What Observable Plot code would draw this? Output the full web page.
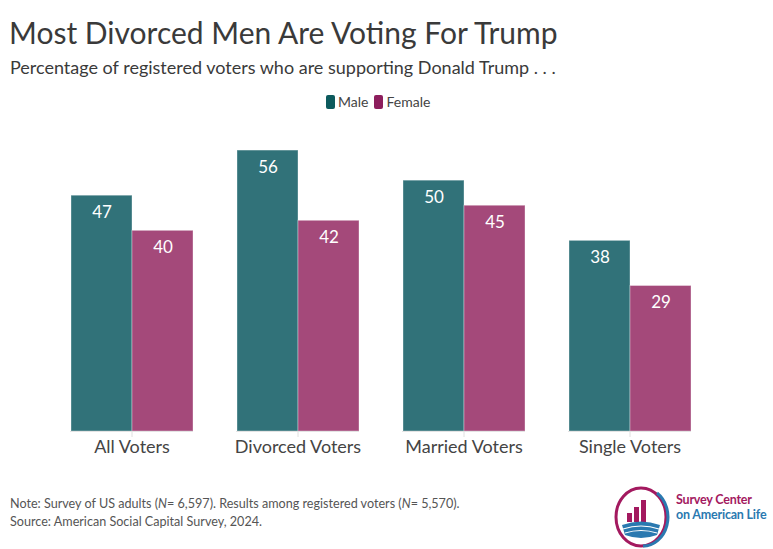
<!DOCTYPE html>
<html>
<head>
<meta charset="utf-8">
<script src="https://cdn.jsdelivr.net/npm/d3@7"></script>
<script src="https://cdn.jsdelivr.net/npm/@observablehq/plot@0.6"></script>
<style>
  html, body { margin: 0; padding: 0; background: #fff; }
  body { width: 773px; height: 549px; position: relative; overflow: hidden; font-family: Lato, "Open Sans", sans-serif; color: #333; }
  #title { position: absolute; left: 9px; top: 14px; font-size: 30px; line-height: 36px; color: #3a3a3a; white-space: nowrap; }
  #subtitle { position: absolute; left: 10px; top: 56px; font-size: 18px; line-height: 22px; color: #3a3a3a; white-space: nowrap; }
  #legend { position: absolute; left: 326px; top: 93px; font-size: 14px; line-height: 18px; color: #444; display: flex; align-items: center; gap: 6px; }
  #legend .sw { display: inline-block; width: 9px; height: 14px; border-radius: 2px; margin-right: 3px; vertical-align: -2px; }
  #chart { position: absolute; left: 0; top: 115px; }
  #note { position: absolute; left: 10px; top: 495px; font-size: 12.6px; line-height: 18px; color: #555; white-space: nowrap; }
  #logo { position: absolute; left: 613px; top: 485px; }
  #logotext { position: absolute; left: 676px; top: 492px; font-size: 12.5px; line-height: 15px; font-weight: 700; letter-spacing: -0.2px; }
</style>
</head>
<body>
<div id="title">Most Divorced Men Are Voting For Trump</div>
<div id="subtitle">Percentage of registered voters who are supporting Donald Trump . . .</div>
<div id="legend"></div>
<div id="chart"></div>
<div id="note">Note: Survey of US adults (<i>N</i>= 6,597). Results among registered voters (<i>N</i>= 5,570).<br>Source: American Social Capital Survey, 2024.</div>
<svg id="logo" width="58" height="64" viewBox="0 0 58 64">
  <ellipse cx="28" cy="32" rx="25" ry="29" fill="none" stroke="#a3195f" stroke-width="3"/>
  <path d="M 44 8 A 25 29 0 0 1 30 61" fill="none" stroke="#2a79b0" stroke-width="3"/>
  <rect x="14" y="28" width="5" height="9" fill="#a3195f"/>
  <rect x="21" y="22" width="5" height="15" fill="#a3195f"/>
  <rect x="28" y="15" width="5" height="22" fill="#a3195f"/>
  <path d="M 9 40 Q 28 33 47 40 L 44 50 Q 28 56 12 50 Z" fill="#2a79b0"/>
  <path d="M 10 44 Q 28 38 46 44 M 12 48 Q 28 43 44 48" stroke="#fff" stroke-width="1.2" fill="none"/>
</svg>
<div id="logotext"><span style="color:#a3195f">Survey Center</span><br><span style="color:#2a79b0">on American Life</span></div>
<script>
const categories = ["All Voters", "Divorced Voters", "Married Voters", "Single Voters"];
const sexes = ["Male", "Female"];
const maleValues = [47, 56, 50, 38];
const femaleValues = [40, 42, 45, 29];
const barColors = ["#317279", "#a4497a"];
const legendColors = ["#0c5a5d", "#8d1e5d"];

const data = categories.flatMap((c, i) => [
  {group: c, sex: "Male", value: maleValues[i]},
  {group: c, sex: "Female", value: femaleValues[i]}
]);

// legend
const legend = document.getElementById("legend");
sexes.forEach((s, i) => {
  const item = document.createElement("span");
  item.innerHTML = `<span class="sw" style="background:${legendColors[i]}"></span>${s}`;
  legend.appendChild(item);
});

let baseline;
try {
  baseline = Plot.ruleY([0], {facet: "super", stroke: "#e4e4e4", strokeWidth: 1.2});
} catch (e) {
  baseline = Plot.ruleY([0], {stroke: "#e4e4e4", strokeWidth: 1.2});
}

const common = {
  width: 773,
  height: 350,
  marginLeft: 48,
  marginRight: 60,
  marginTop: 15,
  marginBottom: 34,
  style: {fontFamily: "Lato, 'Open Sans', sans-serif", background: "transparent"},
  fx: {domain: categories, paddingInner: 0.26, paddingOuter: 0.133, label: null},
  x: {domain: sexes, padding: 0, axis: null},
  y: {domain: [0, 60], axis: null},
  color: {domain: sexes, range: barColors}
};

function build(rule) {
  return Plot.plot({
    ...common,
    marks: [
      Plot.barY(data, {fx: "group", x: "sex", y: "value", fill: "sex", stroke: "#ffffff", strokeOpacity: 0.35, strokeWidth: 1}),
      rule,
      Plot.text(data, {fx: "group", x: "sex", y: "value", text: d => String(d.value), dy: 17, fill: "white", fontSize: 17}),
      Plot.axisFx({anchor: "bottom", label: null, tickSize: 6, tickPadding: 3, fontSize: 18, stroke: "#e0e0e0", fill: "#444"})
    ]
  });
}

let chart;
try {
  chart = build(baseline);
} catch (e) {
  chart = build(Plot.ruleY([0], {stroke: "#e4e4e4", strokeWidth: 1.2}));
}
document.getElementById("chart").appendChild(chart);
</script>
</body>
</html>
